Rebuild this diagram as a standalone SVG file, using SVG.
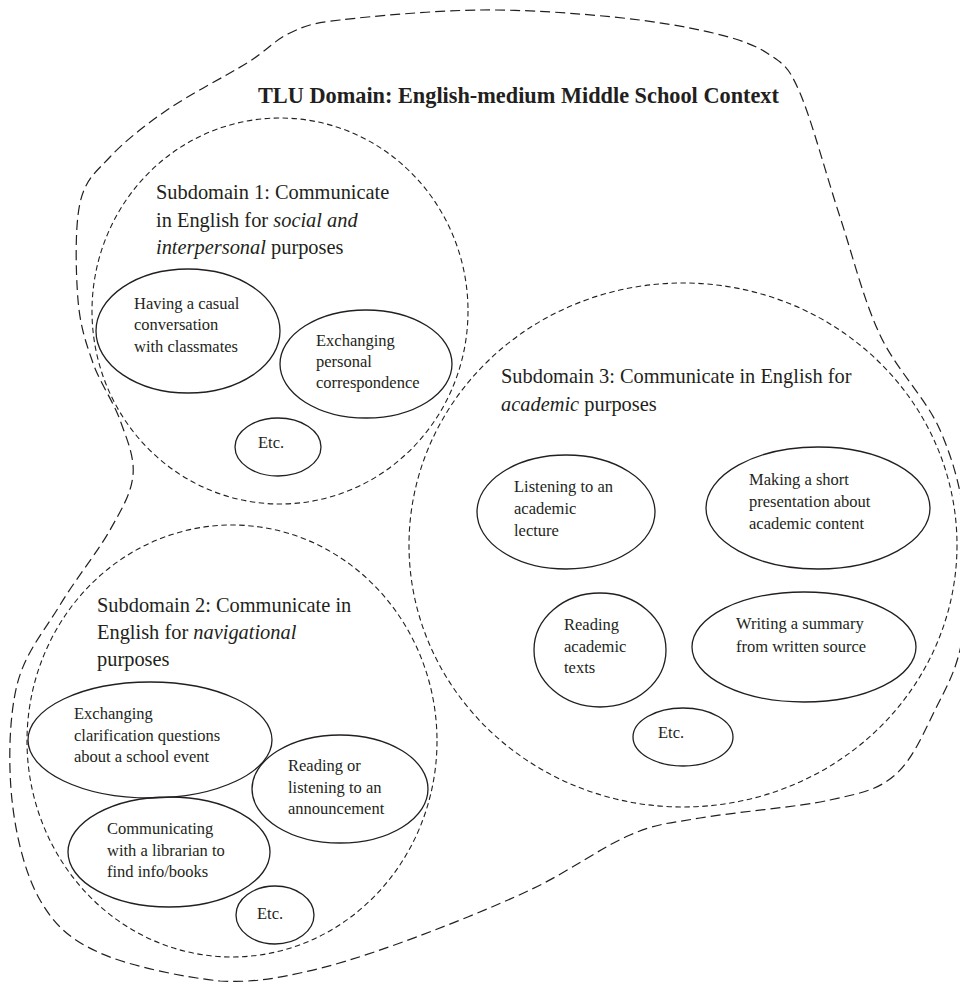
<svg xmlns="http://www.w3.org/2000/svg" width="960" height="982" viewBox="0 0 960 982">
<style>
  .bg{fill:#ffffff}
  .outer{fill:none;stroke:#231f20;stroke-width:1.2;stroke-dasharray:10 5}
  .sub{fill:none;stroke:#231f20;stroke-width:1.1;stroke-dasharray:5.5 3.5}
  .node{fill:none;stroke:#231f20;stroke-width:1.3}
  text{font-family:"Liberation Serif","Times New Roman",serif;fill:#231f20}
  .title{font-size:22.3px;font-weight:bold}
  .st{font-size:20.4px}
  .nt{font-size:16.5px}
  .it{font-style:italic}
</style>
<rect class="bg" x="0" y="0" width="960" height="982"/>
<g id="tlu-domain">
  <path class="outer" d="M93,363 C86,343 80.2,326.7 78,300 C75.8,273.3 74.7,226.8 80,203 C85.3,179.2 95.5,172.5 110,157 C124.5,141.5 144.2,125.7 167,110 C189.8,94.3 226.5,75.8 247,63 C267.5,50.2 274.5,40.2 290,33 C305.5,25.8 308.3,23.8 340,20 C371.7,16.2 434.5,10.5 480,10 C525.5,9.5 574.2,13.2 613,17 C651.8,20.8 686.8,26.7 713,33 C739.2,39.3 755.5,45 770,55 C784.5,65 788.3,66 800,93 C811.7,120 826.7,176.7 840,217 C853.3,257.3 863.3,299.5 880,335 C896.7,370.5 925.7,397.5 940,430 C954.3,462.5 962.3,495 966,530 C969.7,565 967.2,610 962,640 C956.8,670 946.2,687.5 935,710 C923.8,732.5 912.5,760 895,775 C877.5,790 862.5,792.8 830,800 C797.5,807.2 733.3,812.2 700,818 C666.7,823.8 658.3,823 630,835 C601.7,847 568.3,872 530,890 C491.7,908 438.3,929.2 400,943 C361.7,956.8 330,966.7 300,973 C270,979.3 253.3,982.5 220,981 C186.7,977.7 130,966.5 100,953 C70,939.5 54.7,925.5 40,900 C25.3,874.5 15.8,835.8 12,800 C8.2,764.2 9,717.5 17,685 C25,652.5 44.5,630.8 60,605 C75.5,579.2 97.8,551.7 110,530 C122.2,508.3 131.3,493.3 133,475 C134.7,456.7 126.7,438.7 120,420 C113.3,401.3 100,383 93,363 Z"/>
  <text class="title" x="258" y="103">TLU Domain: English-medium Middle School Context</text>
</g>
<g id="subdomain-1">
  <ellipse class="sub" cx="280" cy="311" rx="188" ry="193"/>
  <text class="st" x="156" y="199">Subdomain 1: Communicate</text>
  <text class="st" x="156" y="227">in English for <tspan class="it">social and</tspan></text>
  <text class="st" x="156" y="254"><tspan class="it">interpersonal</tspan> purposes</text>
</g>
<g id="subdomain-2">
  <ellipse class="sub" cx="232" cy="741" rx="205" ry="216"/>
  <text class="st" x="97" y="612">Subdomain 2: Communicate in</text>
  <text class="st" x="97" y="639">English for <tspan class="it">navigational</tspan></text>
  <text class="st" x="97" y="666">purposes</text>
</g>
<g id="subdomain-3">
  <ellipse class="sub" cx="683" cy="545" rx="274" ry="262"/>
  <text class="st" x="501" y="383">Subdomain 3: Communicate in English for</text>
  <text class="st" x="501" y="411"><tspan class="it">academic</tspan> purposes</text>
</g>
<g id="node-casual-conversation">
  <ellipse class="node" cx="188" cy="331" rx="92" ry="62"/>
  <text class="nt" x="134" y="309">Having a casual</text>
  <text class="nt" x="134" y="330">conversation</text>
  <text class="nt" x="134" y="352">with classmates</text>
</g>
<g id="node-personal-correspondence">
  <ellipse class="node" cx="366" cy="364" rx="86" ry="54"/>
  <text class="nt" x="316" y="346">Exchanging</text>
  <text class="nt" x="316" y="367">personal</text>
  <text class="nt" x="316" y="388">correspondence</text>
</g>
<g id="node-etc-1">
  <ellipse class="node" cx="278" cy="447" rx="43" ry="29"/>
  <text class="nt" x="258" y="448">Etc.</text>
</g>
<g id="node-clarification-questions">
  <ellipse class="node" cx="150" cy="740" rx="122" ry="58"/>
  <text class="nt" x="74" y="719">Exchanging</text>
  <text class="nt" x="74" y="741">clarification questions</text>
  <text class="nt" x="74" y="762">about a school event</text>
</g>
<g id="node-announcement">
  <ellipse class="node" cx="340" cy="789" rx="88" ry="54"/>
  <text class="nt" x="288" y="771">Reading or</text>
  <text class="nt" x="288" y="793">listening to an</text>
  <text class="nt" x="288" y="814">announcement</text>
</g>
<g id="node-librarian">
  <ellipse class="node" cx="169" cy="852" rx="101" ry="55"/>
  <text class="nt" x="107" y="834">Communicating</text>
  <text class="nt" x="107" y="856">with a librarian to</text>
  <text class="nt" x="107" y="877">find info/books</text>
</g>
<g id="node-etc-2">
  <ellipse class="node" cx="275" cy="915" rx="39" ry="29"/>
  <text class="nt" x="257" y="919">Etc.</text>
</g>
<g id="node-lecture">
  <ellipse class="node" cx="566" cy="512" rx="89" ry="57"/>
  <text class="nt" x="514" y="492">Listening to an</text>
  <text class="nt" x="514" y="514">academic</text>
  <text class="nt" x="514" y="536">lecture</text>
</g>
<g id="node-presentation">
  <ellipse class="node" cx="818" cy="508" rx="112" ry="61"/>
  <text class="nt" x="749" y="485">Making a short</text>
  <text class="nt" x="749" y="507">presentation about</text>
  <text class="nt" x="749" y="529">academic content</text>
</g>
<g id="node-reading-texts">
  <ellipse class="node" cx="600" cy="650" rx="66" ry="57"/>
  <text class="nt" x="564" y="630">Reading</text>
  <text class="nt" x="564" y="652">academic</text>
  <text class="nt" x="564" y="673">texts</text>
</g>
<g id="node-summary">
  <ellipse class="node" cx="804" cy="647" rx="112" ry="55"/>
  <text class="nt" x="736" y="629">Writing a summary</text>
  <text class="nt" x="736" y="652">from written source</text>
</g>
<g id="node-etc-3">
  <ellipse class="node" cx="683" cy="737" rx="50" ry="29"/>
  <text class="nt" x="658" y="738">Etc.</text>
</g>
<g id="connectors"></g>
</svg>
